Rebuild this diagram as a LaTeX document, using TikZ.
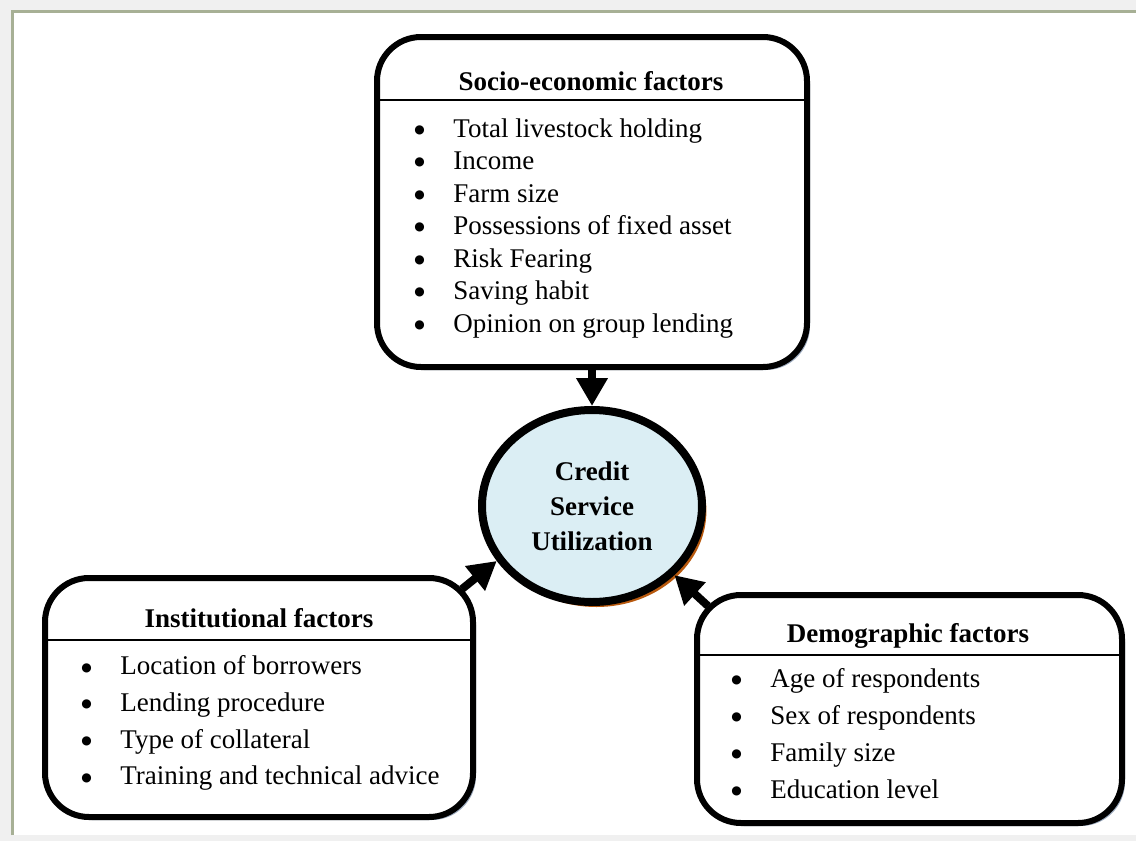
\documentclass[tikz,border=0pt]{standalone}
\usepackage{fontspec}
\setmainfont{Liberation Serif}
\newfontfamily\dotfont{DejaVu Sans}
\usetikzlibrary{arrows.meta,shapes.geometric,shadows}
\definecolor{framegreen}{HTML}{A7B095}
\definecolor{pagegray}{HTML}{F0F0F0}
\definecolor{bubbleblue}{HTML}{DBEEF4}
\definecolor{bubbleshadow}{HTML}{B8590E}
\definecolor{boxshadow}{HTML}{9AA8BC}
\tikzset{
	factorbox/.style={draw, line width=3pt, rounded corners=22pt, fill=white, inner sep=0pt,
		drop shadow={shadow xshift=1.5pt, shadow yshift=-1.5pt, fill=boxshadow, opacity=1}},
	boxtitle/.style={anchor=base, inner sep=0pt, font=\fontsize{13.5}{16}\selectfont\bfseries},
	item/.style={anchor=base west, inner sep=0pt, font=\fontsize{13.5}{16}\selectfont},
	divider/.style={line width=1pt},
	link/.style={line width=4pt, -{Triangle[length=14pt,width=15pt]}}
}
\newcommand{\bul}{\llap{\raisebox{1.8pt}{\dotfont\fontsize{6}{6}\selectfont ●}\hspace{14.3pt}}}
\begin{document}
\begin{tikzpicture}[x=0.5pt, y=-0.5pt]
	\useasboundingbox (0,0) rectangle (1136,841);
	\fill[pagegray] (0,0) rectangle (1136,841);
	\fill[white] (12,11) rectangle (1136,835);
	\draw[framegreen, line width=1.5pt] (12,835) -- (12,11) -- (1136,11);

	\node[factorbox, minimum width=215pt, minimum height=165pt] (socio) at (592,202) {};
	\node[boxtitle] (sociot) at (591,90) {Socio-economic factors};
	\draw[divider] (socio.west |- 0,100) -- (socio.east |- 0,100);
	\foreach \t [count=\i] in {Total livestock holding, Income, Farm size, Possessions of fixed asset, Risk Fearing, Saving habit, Opinion on group lending}
		\node[item] (soc\i) at (453, 104.5+32.5*\i) {\bul\t};

	\node[factorbox, minimum width=214pt, minimum height=119.5pt] (inst) at (259,697.5) {};
	\node[boxtitle] (instt) at (259,627) {Institutional factors};
	\draw[divider] (inst.west |- 0,640) -- (inst.east |- 0,640);
	\foreach \t [count=\i] in {Location of borrowers, Lending procedure, Type of collateral, Training and technical advice}
		\node[item] (ins\i) at (120, 638+36.7*\i) {\bul\t};

	\node[factorbox, minimum width=212.5pt, minimum height=114pt] (demo) at (909.5,709) {};
	\node[boxtitle] (demot) at (908,642) {Demographic factors};
	\draw[divider] (demo.west |- 0,655) -- (demo.east |- 0,655);
	\foreach \t [count=\i] in {Age of respondents, Sex of respondents, Family size, Education level}
		\node[item] (dem\i) at (770, 650+37*\i) {\bul\t};

	\node[ellipse, draw, line width=4pt, fill=bubbleblue, minimum width=110pt, minimum height=96pt,
		inner sep=0pt, align=center, font=\fontsize{13.5}{17.5}\selectfont\bfseries,
		drop shadow={shadow xshift=2.2pt, shadow yshift=-2.5pt, fill=bubbleshadow, opacity=1}]
		(credit) at (592,506) {Credit\\Service\\Utilization};

	\draw[link] (socio) -- (credit);
	\draw[link] ([shift={(-14,14)}]inst.north east) -- (credit.210);
	\draw[link] ([shift={(14,14)}]demo.north west) -- (credit.-40);
\end{tikzpicture}
\end{document}
